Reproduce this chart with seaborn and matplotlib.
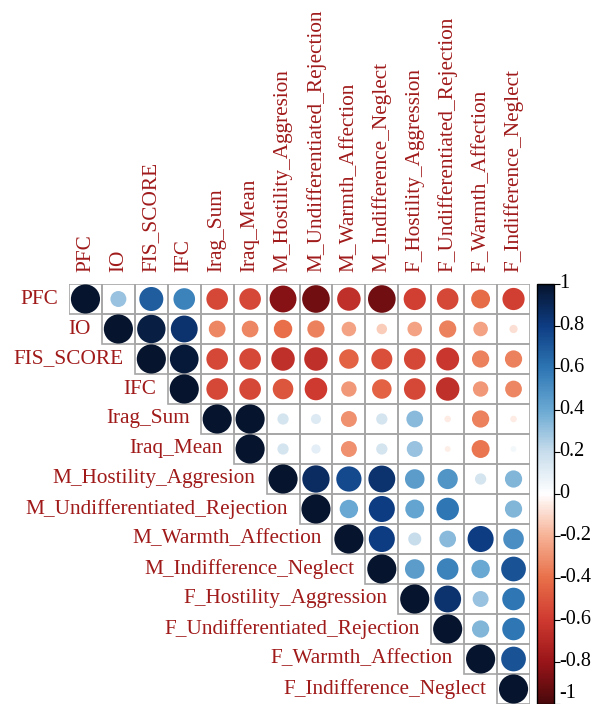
import numpy as np
import pandas as pd
import seaborn as sns
import matplotlib.pyplot as plt
from matplotlib.colors import LinearSegmentedColormap, ListedColormap, Normalize
from matplotlib.cm import ScalarMappable
from matplotlib.patches import Rectangle

labels = ["PFC", "IO", "FIS_SCORE", "IFC", "Irag_Sum", "Iraq_Mean",
          "M_Hostility_Aggresion", "M_Undifferentiated_Rejection",
          "M_Warmth_Affection", "M_Indifference_Neglect",
          "F_Hostility_Aggression", "F_Undifferentiated_Rejection",
          "F_Warmth_Affection", "F_Indifference_Neglect"]

# upper triangle, each row starts at the diagonal
r_PFC = [1, 0.30, 0.68, 0.55, -0.55, -0.55, -0.85, -0.90, -0.65, -0.90, -0.58, -0.55, -0.42, -0.58]
r_IO = [1, 0.95, 0.85, -0.33, -0.33, -0.40, -0.35, -0.25, -0.13, -0.25, -0.35, -0.25, -0.08]
r_FIS = [1, 0.97, -0.55, -0.55, -0.65, -0.65, -0.45, -0.52, -0.55, -0.62, -0.35, -0.35]
r_IFC = [1, -0.55, -0.55, -0.50, -0.60, -0.28, -0.45, -0.55, -0.65, -0.28, -0.33]
r_IragSum = [1, 1.0, 0.15, 0.12, -0.30, 0.15, 0.33, -0.05, -0.35, -0.05]
r_IraqMean = [1, 0.15, 0.10, -0.30, 0.15, 0.30, -0.04, -0.38, 0.04]
r_MHost = [1, 0.88, 0.75, 0.85, 0.45, 0.48, 0.15, 0.35]
r_MUndiff = [1, 0.40, 0.80, 0.42, 0.60, 0.0, 0.35]
r_MWarmth = [1, 0.80, 0.20, 0.33, 0.80, 0.50]
r_MIndiff = [1, 0.45, 0.55, 0.40, 0.72]
r_FHost = [1, 0.85, 0.30, 0.60]
r_FUndiff = [1, 0.35, 0.60]
r_FWarmth = [1, 0.72]
r_FIndiff = [1]

rows = [r_PFC, r_IO, r_FIS, r_IFC, r_IragSum, r_IraqMean, r_MHost, r_MUndiff,
        r_MWarmth, r_MIndiff, r_FHost, r_FUndiff, r_FWarmth, r_FIndiff]

cb_ticks = [1, 0.8, 0.6, 0.4, 0.2, 0, -0.2, -0.4, -0.6, -0.8, -1]
cb_labels = ["1", "0.8", "0.6", "0.4", "0.2", "0", "-0.2", "-0.4", "-0.6", "-0.8", "-1"]

n = len(labels)
recs = []
for i, row in enumerate(rows):
    for k, v in enumerate(row):
        j = i + k
        recs.append({"x": j + 0.5, "y": i + 0.5, "r": v, "absr": abs(v)})
df = pd.DataFrame(recs)

cmap = LinearSegmentedColormap.from_list("corr", [
    "#4a080b", "#9a1519", "#cf3a30", "#e8704a", "#f7b296", "#ffffff",
    "#c8ddec", "#6aa9d3", "#2e76b4", "#0e3d84", "#06142e"])

sns.set_theme(style="white")
plt.rcParams["font.family"] = ["Liberation Serif", "DejaVu Serif"]
plt.rcParams["axes.unicode_minus"] = False
lab_col = "#a01a1a"
fs = 15.3

fig = plt.figure(figsize=(5.98, 7.04), dpi=100)
ax = fig.add_axes([69 / 598, 0.0, 461 / 598, 420 / 704])

# white background cells, grid drawn per upper-triangle cell
grid = np.zeros((n, n))
mask = np.tril(np.ones((n, n), dtype=bool), k=-1)
sns.heatmap(grid, mask=mask, cmap=ListedColormap(["white"]), cbar=False,
            ax=ax, xticklabels=False, yticklabels=False)
for i in range(n):
    for j in range(i, n):
        ax.add_patch(Rectangle((j, i), 1, 1, fill=False, edgecolor="#a6a6a6",
                               linewidth=1.2, zorder=1))

sns.scatterplot(data=df, x="x", y="y", hue="r", palette=cmap, hue_norm=(-1, 1),
                size="absr", sizes=(0, 440), size_norm=(0, 1), linewidth=0,
                legend=False, ax=ax, zorder=3)
ax.set_xlim(0, n)
ax.set_ylim(n, 0)
ax.set_xlabel("")
ax.set_ylabel("")
for s in ax.spines.values():
    s.set_visible(False)

for j, lab in enumerate(labels):
    ax.annotate(lab, xy=(j + 0.5, 0), xytext=(0, 8.5), textcoords="offset points",
                rotation=90, ha="center", va="bottom", color=lab_col,
                fontsize=fs, annotation_clip=False)
    ax.annotate(lab, xy=(j, j + 0.5), xytext=(-8, 0), textcoords="offset points",
                ha="right", va="center", color=lab_col, fontsize=fs,
                annotation_clip=False)

cax = fig.add_axes([537 / 598, 0.0, 17 / 598, 420 / 704])
cb = fig.colorbar(ScalarMappable(norm=Normalize(-1, 1), cmap=cmap), cax=cax)
cb.set_ticks(cb_ticks)
cb.set_ticklabels([])
cb.outline.set_edgecolor("black")
cb.outline.set_linewidth(1)
cax.tick_params(axis="y", direction="out", length=4, width=0.8, colors="black", right=True)
for v, t in zip(cb_ticks, cb_labels):
    # the bottom label is lifted so it stays inside the picture
    va = "bottom" if v == -1 else "center"
    dy = 1 if v == -1 else 0
    cax.annotate(t, xy=(1, v), xycoords=("axes fraction", "data"),
                 xytext=(4, dy), textcoords="offset points", ha="left", va=va,
                 fontsize=14.5, color="black", annotation_clip=False)

fig.savefig("out.png", dpi=100)
